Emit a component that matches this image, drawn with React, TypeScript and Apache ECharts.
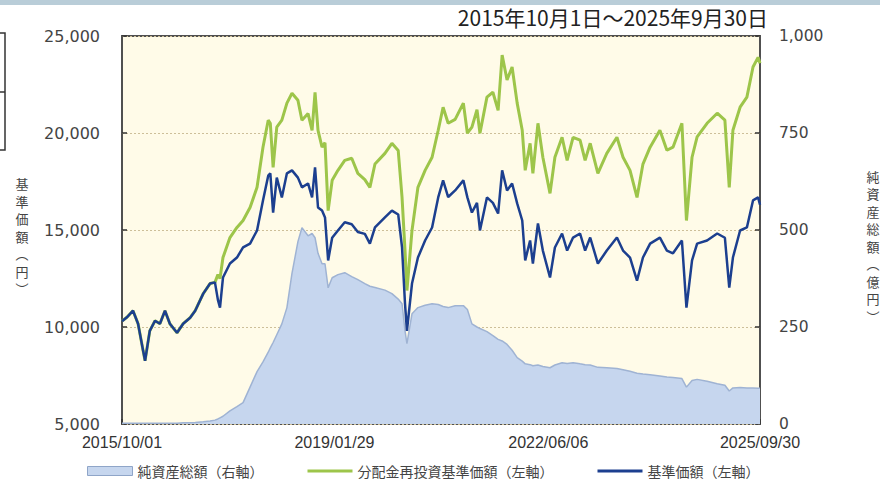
import React, { useEffect, useRef } from "react";
import * as echarts from "echarts";

const DATES = [
  "2015/10/01","2015/10/29","2015/12/03","2016/01/01","2016/01/30","2016/02/10","2016/03/08","2016/04/07","2016/05/05","2016/06/03",
  "2016/07/01","2016/08/11","2016/09/15","2016/10/25","2016/11/23","2017/01/08","2017/02/16","2017/03/16","2017/04/02","2017/04/14",
  "2017/05/01","2017/06/10","2017/07/20","2017/08/24","2017/10/03","2017/11/12","2017/12/16","2018/01/15","2018/01/27","2018/02/12",
  "2018/03/05","2018/04/03","2018/05/02","2018/05/31","2018/07/04","2018/07/27","2018/08/31","2018/09/23","2018/10/10","2018/10/27",
  "2018/11/19","2018/12/06","2018/12/24","2019/01/16","2019/02/18","2019/03/29","2019/05/08","2019/06/12","2019/07/22","2019/08/20",
  "2019/09/18","2019/11/14","2019/12/24","2020/01/29","2020/02/20","2020/03/08","2020/03/19","2020/04/17","2020/05/21","2020/07/01",
  "2020/08/10","2020/09/14","2020/10/12","2020/11/10","2020/12/20","2021/02/05","2021/02/28","2021/03/26","2021/04/24","2021/05/11",
  "2021/06/20","2021/07/24","2021/08/23","2021/09/15","2021/10/13","2021/11/11","2021/12/10","2022/01/08","2022/01/25","2022/02/22",
  "2022/03/10","2022/04/08","2022/05/06","2022/06/16","2022/07/14","2022/08/24","2022/09/22","2022/10/26","2022/12/05","2023/01/03",
  "2023/02/01","2023/03/17","2023/05/07","2023/07/04","2023/08/08","2023/09/17","2023/10/27","2023/11/30","2024/01/10","2024/03/06",
  "2024/04/15","2024/05/20","2024/07/10","2024/08/05","2024/09/06","2024/10/05","2024/12/01","2025/01/28","2025/03/13","2025/04/07",
  "2025/04/28","2025/06/08","2025/07/17","2025/08/21","2025/09/19","2025/09/30"
];

// 基準価額（左軸）
const NAV = [
  10300,10500,10840,10170,8770,8260,9800,10320,10170,10840,
  10170,9700,10170,10480,10840,11720,12240,12300,11400,11000,
  12550,13270,13580,14100,14300,14975,16525,17800,17920,15900,
  17700,16680,17920,18075,17700,17200,17400,16680,18230,16160,
  16000,15650,13430,14600,14975,15400,15300,14900,14800,14300,
  15130,15650,16000,15800,14100,11200,9800,12240,13580,14460,
  15130,16680,17560,16700,17040,17560,16680,15900,16400,14975,
  16680,16400,15850,18075,17040,17400,16370,15490,13430,14460,
  13270,15340,13940,12550,14100,14820,13940,14610,14820,13940,
  14610,13270,13940,14610,13940,13580,12390,13580,14300,14610,
  13940,13800,14460,11000,13430,14300,14460,14820,14600,12030,
  13580,14975,15130,16525,16680,16300
];

// 分配金再投資基準価額（左軸）
const REINVEST = [
  10300,10500,10840,10170,8770,8260,9800,10320,10170,10840,
  10170,9700,10170,10480,10840,11720,12240,12300,12700,12500,
  13580,14610,15130,15490,16160,17200,19270,20660,20500,18230,
  20300,20660,21540,22050,21690,20660,21000,20140,22100,20140,
  19270,19500,16000,17560,18075,18590,18700,17920,17600,17200,
  18400,18950,19470,19100,16680,13940,11880,14975,17200,18075,
  18750,20140,21330,20500,20700,21540,19990,20300,21200,19990,
  21850,22100,21170,24020,22730,23400,21540,20140,18075,19470,
  17920,20500,18750,16890,18750,19780,18590,19780,19630,18590,
  19470,17920,18950,19780,18750,18075,16680,18400,19270,20140,
  19110,19270,20500,15490,18750,19800,20500,21020,20660,17200,
  20140,21330,21850,23400,23900,23600
];

// 純資産総額（右軸, 億円）
const ASSETS = [
  2,2,2,2,2,2,2,2,2,2,
  2,2,3,3,4,6,8,10,13,16,
  20,34,45,55,95,135,160,185,196,210,
  230,258,300,388,470,506,485,491,480,440,
  413,413,351,377,385,390,380,372,362,355,
  352,345,336,322,310,240,207,284,300,306,
  310,308,303,300,305,305,295,258,250,246,
  238,228,218,214,205,190,171,162,155,153,
  150,152,148,145,152,158,156,158,155,153,
  152,146,145,143,140,136,131,129,127,124,
  121,120,117,95,112,115,110,104,100,85,
  93,94,93,93,92,92
];

const X_LABEL_DATES = ["2015/10/01", "2019/01/29", "2022/06/06", "2025/09/30"];
const SERIES_NAMES = ["純資産総額（右軸）", "分配金再投資基準価額（左軸）", "基準価額（左軸）"];
const TITLE = "2015年10月1日～2025年9月30日";
const LEFT_NAME = "基\n準\n価\n額\n︵\n円\n︶";
const RIGHT_NAME = "純\n資\n産\n総\n額\n︵\n億\n円\n︶";

const parse = (s: string) => {
  const [y, m, d] = s.split("/").map(Number);
  return new Date(y, m - 1, d).getTime();
};
const pad = (n: number) => (n < 10 ? "0" + n : "" + n);

// thin horizontal bar inside a 45x9 box (tiny corner dots fix the bounding box)
const LINE_ICON = "path://M0,3L45,3L45,6L0,6Z M0,0L0.01,0L0.01,0.01Z M44.99,8.99L45,8.99L45,9Z";

export default function App() {
  const ref = useRef<HTMLDivElement>(null);
  useEffect(() => {
    document.body.style.margin = "0";
    const chart = echarts.init(ref.current!, null, { renderer: "svg" });
    const xs = DATES.map(parse);
    const labelVals = X_LABEL_DATES.map(parse);
    const cjk = "'Noto Sans CJK JP', 'Noto Sans', sans-serif";
    const option: any = {
      animation: false,
      backgroundColor: "#ffffff",
      grid: {
        left: 122,
        right: 120,
        top: 36,
        bottom: 57,
        show: true,
        backgroundColor: "#FFFBE8",
        borderColor: "#505050",
        borderWidth: 2,
      },
      legend: {
        left: 87,
        top: 464,
        padding: 0,
        itemGap: 44,
        itemWidth: 45,
        itemHeight: 9,
        textStyle: { fontSize: 14, lineHeight: 14, color: "#444", fontFamily: cjk },
        data: [
          {
            name: SERIES_NAMES[0],
            icon: "rect",
            itemStyle: { color: "#C6D6EE", borderColor: "#8FA5C8", borderWidth: 1 },
          },
          { name: SERIES_NAMES[1], icon: LINE_ICON, itemStyle: { color: "#9DC54A", borderWidth: 0 } },
          { name: SERIES_NAMES[2], icon: LINE_ICON, itemStyle: { color: "#1C3F8F", borderWidth: 0 } },
        ],
      },
      xAxis: {
        type: "value",
        min: labelVals[0],
        max: labelVals[3],
        axisLine: { show: false },
        axisTick: { show: true, inside: true, length: 5, customValues: labelVals, lineStyle: { color: "#333", width: 1.5 } },
        axisLabel: {
          customValues: labelVals,
          margin: 11,
          fontSize: 16,
          lineHeight: 14,
          color: "#333",
          fontFamily: "'Liberation Sans', Arial, sans-serif",
          hideOverlap: false,
          showMinLabel: true,
          showMaxLabel: true,
          formatter: (v: number) => {
            const d = new Date(v);
            return `${d.getFullYear()}/${pad(d.getMonth() + 1)}/${pad(d.getDate())}`;
          },
        },
        splitLine: { show: false },
      },
      yAxis: [
        {
          type: "value",
          min: 5000,
          max: 25000,
          interval: 5000,
          position: "left",
          axisLine: { show: false },
          axisTick: { show: true, inside: true, length: 5, lineStyle: { color: "#333", width: 1.5 } },
          axisLabel: {
            margin: 22,
            fontSize: 16,
            lineHeight: 14,
            color: "#444",
            fontFamily: "'DejaVu Sans', Verdana, sans-serif",
            formatter: (v: number) => v.toLocaleString("en-US"),
          },
          splitLine: { show: true, lineStyle: { color: "#CDBF99", type: [2, 2], width: 1 } },
        },
        {
          type: "value",
          min: 0,
          max: 1000,
          interval: 250,
          position: "right",
          axisLine: { show: false },
          axisTick: { show: true, inside: true, length: 5, lineStyle: { color: "#333", width: 1.5 } },
          axisLabel: {
            margin: 19,
            fontSize: 15.5,
            lineHeight: 13,
            color: "#444",
            fontFamily: "'DejaVu Sans', Verdana, sans-serif",
            formatter: (v: number) => v.toLocaleString("en-US"),
          },
          splitLine: { show: false },
        },
      ],
      series: [
        {
          name: SERIES_NAMES[0],
          type: "line",
          yAxisIndex: 1,
          symbol: "none",
          data: xs.map((x, i) => [x, ASSETS[i]]),
          lineStyle: { color: "#9FB3D3", width: 1.5 },
          itemStyle: { color: "#C6D6EE" },
          areaStyle: { color: "#C6D6EE", opacity: 1 },
          z: 1,
        },
        {
          name: SERIES_NAMES[1],
          type: "line",
          yAxisIndex: 0,
          symbol: "none",
          data: xs.map((x, i) => [x, REINVEST[i]]),
          lineStyle: { color: "#9DC54A", width: 3 },
          itemStyle: { color: "#9DC54A" },
          z: 2,
        },
        {
          name: SERIES_NAMES[2],
          type: "line",
          yAxisIndex: 0,
          symbol: "none",
          data: xs.map((x, i) => [x, NAV[i]]),
          lineStyle: { color: "#1C3F8F", width: 2.5 },
          itemStyle: { color: "#1C3F8F" },
          z: 3,
        },
      ],
      graphic: [
        { type: "rect", shape: { x: 0, y: 0, width: 880, height: 5 }, style: { fill: "#B9CDD8" }, silent: true },
        {
          type: "polyline",
          shape: { points: [[0, 33], [5, 33], [5, 150], [0, 150]] },
          style: { stroke: "#333", lineWidth: 1.5, fill: "none" },
          silent: true,
        },
        { type: "line", shape: { x1: 0, y1: 92, x2: 5, y2: 92 }, style: { stroke: "#333", lineWidth: 1.5 }, silent: true },
        {
          type: "text",
          right: 112,
          top: 6,
          style: { text: TITLE, fontSize: 21, fill: "#222", fontFamily: cjk },
        },
        {
          type: "text",
          x: 22,
          y: 236,
          style: { text: LEFT_NAME, fontSize: 13, lineHeight: 17.5, fill: "#444", fontFamily: cjk, align: "center", verticalAlign: "middle" },
        },
        {
          type: "text",
          x: 873,
          y: 246,
          style: { text: RIGHT_NAME, fontSize: 13, lineHeight: 17.5, fill: "#444", fontFamily: cjk, align: "center", verticalAlign: "middle" },
        },
      ],
    };
    chart.setOption(option);
    return () => chart.dispose();
  }, []);
  return <div ref={ref} style={{ position: "fixed", left: 0, top: 0, width: 880, height: 481 }} />;
}
